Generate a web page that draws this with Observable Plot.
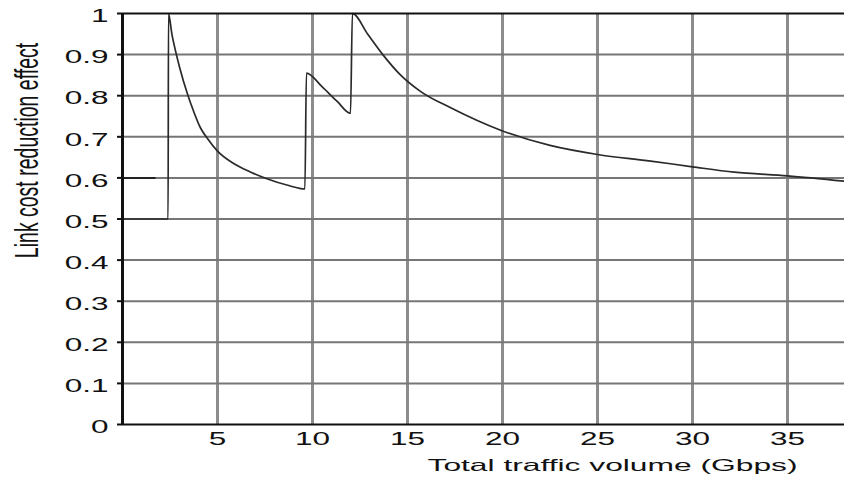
<!DOCTYPE html>
<html><head><meta charset="utf-8">
<script src="https://cdn.jsdelivr.net/npm/d3@7"></script>
<script src="https://cdn.jsdelivr.net/npm/@observablehq/plot@0.6"></script>
<style>body{margin:0;background:#fff} svg{display:block}</style>
</head><body><div id="chart"></div>
<script>
const xTicks = [5, 10, 15, 20, 25, 30, 35];
const xTickLabels = ["5", "10", "15", "20", "25", "30", "35"];
const yTicks = [0, 0.1, 0.2, 0.3, 0.4, 0.5, 0.6, 0.7, 0.8, 0.9, 1];
const yTickLabels = ["0", "0.1", "0.2", "0.3", "0.4", "0.5", "0.6", "0.7", "0.8", "0.9", "1"];
const yGrid = [0.1, 0.2, 0.3, 0.4, 0.5, 0.6, 0.7, 0.8, 0.9];
const curveX = [0, 2.4, 2.42, 2.6, 2.79, 3.0, 3.42, 3.6, 4.1, 4.5, 5.0, 5.85, 6.7, 7.6, 8.7, 9.6, 9.68, 10.5, 11.3, 12.0, 12.1, 12.9, 13.7, 14.6, 15.7, 17.3, 19.9, 22.5, 25, 27.8, 30, 32.2, 35, 38];
const curveY = [0.5, 0.5, 1.0, 0.95, 0.909, 0.87, 0.804, 0.78, 0.722, 0.694, 0.665, 0.635, 0.615, 0.598, 0.582, 0.573, 0.855, 0.822, 0.786, 0.757, 1.0, 0.95, 0.9, 0.852, 0.81, 0.77, 0.716, 0.679, 0.657, 0.641, 0.627, 0.614, 0.605, 0.592];
const stubX = [0, 1.7];
const stubY = [0.6, 0.6];
const xTitle = "Total traffic volume (Gbps)";
const yTitle = "Link cost reduction effect";

const curve = curveX.map((x, i) => ({x, y: curveY[i]}));
const stub = stubX.map((x, i) => ({x, y: stubY[i]}));

const chart = Plot.plot({
  width: 844,
  height: 481,
  marginLeft: 122,
  marginRight: 0,
  marginTop: 13,
  marginBottom: 57,
  style: {fontFamily: "'Liberation Sans', Arial, sans-serif", fontSize: "18px", color: "#111", background: "#fff"},
  x: {domain: [0, 38], axis: null},
  y: {domain: [0, 1], ticks: yTicks, tickSize: 5, tickFormat: () => "", label: null},
  marks: [
    Plot.ruleX(xTicks, {x: d => d, stroke: "#8c8c8c", strokeWidth: 3}),
    Plot.ruleY(yGrid, {y: d => d, stroke: "#767676", strokeWidth: 2}),
    Plot.line(stub, {x: "x", y: "y", stroke: "#222", strokeWidth: 2}),
    Plot.line(curve, {x: "x", y: "y", stroke: "#2a2a2a", strokeWidth: 1.7, curve: "monotone-x"}),
    Plot.ruleY([1], {y: d => d, stroke: "#111", strokeWidth: 2}),
    Plot.ruleY([0], {y: d => d, stroke: "#111", strokeWidth: 2}),
    Plot.ruleX([0], {x: d => d, stroke: "#111", strokeWidth: 3}),
    Plot.text(yTicks, {x: 0, y: d => d, text: (d, i) => yTickLabels[i], textAnchor: "end", dx: -14, dy: 3, fill: "#111"}),
    Plot.text(xTicks, {x: d => d, y: 0, text: (d, i) => xTickLabels[i], dy: 15, fill: "#111"}),
    Plot.text([xTitle], {frameAnchor: "bottom-left", text: d => d, textAnchor: "middle", dx: 490, dy: 46, fontSize: 16.5, fill: "#111"}),
    Plot.text([yTitle], {frameAnchor: "top-left", text: d => d, textAnchor: "middle", rotate: -90, dx: -109, dy: 137, fontSize: 19.5, fill: "#111"})
  ]
});
document.getElementById("chart").append(chart);
d3.select(chart).selectAll("[aria-label^='y-axis'] line, [aria-label^='y-axis'] path").attr("stroke-width", 2).attr("stroke", "#111");
d3.select(chart).selectAll("text").each(function() {
  const t = this.textContent;
  if (!t) return;
  if (t === yTitle) {
    this.setAttribute("transform", (this.getAttribute("transform") || "") + " scale(1,1.75)");
  } else if (t === xTitle) {
    this.setAttribute("textLength", 370);
    this.setAttribute("lengthAdjust", "spacingAndGlyphs");
  } else {
    const L = this.getComputedTextLength();
    this.setAttribute("textLength", L * 1.75);
    this.setAttribute("lengthAdjust", "spacingAndGlyphs");
  }
});
</script>
</body></html>
